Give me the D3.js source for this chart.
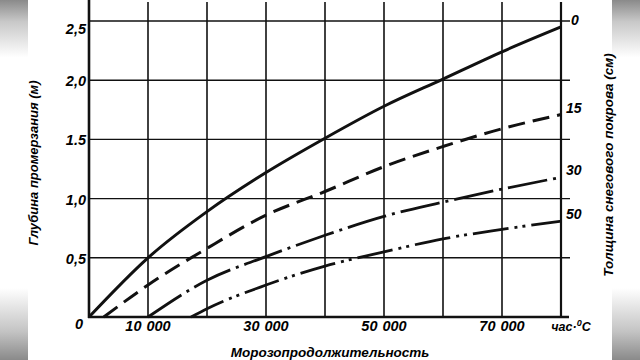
<!DOCTYPE html>
<html><head><meta charset="utf-8">
<script src="https://cdn.jsdelivr.net/npm/d3@7"></script>
<style>
html,body{margin:0;padding:0;background:#fff;}
svg{display:block;}
text{font-family:"Liberation Sans",Arial,sans-serif;font-weight:bold;fill:#000;}
</style></head>
<body>
<svg id="chart" width="640" height="360"></svg>
<script>
// ---- data ----
const xTicks = [0, 10000, 20000, 30000, 40000, 50000, 60000, 70000, 80000];
const xTickLabels = ["10 000", "30 000", "50 000", "70 000"];
const xTickLabelValues = [10000, 30000, 50000, 70000];
const yTicks = [0, 0.5, 1.0, 1.5, 2.0, 2.5];
const yTickLabels = ["0", "0,5", "1,0", "1.5", "2,0", "2,5"];
const snowLabels = ["0", "15", "30", "50"];

const curve0X  = [0, 10000, 20000, 30000, 40000, 50000, 60000, 70000, 80000];
const curve0Y  = [0, 0.50, 0.89, 1.22, 1.51, 1.78, 2.01, 2.24, 2.45];
const curve15X = [2500, 10000, 20000, 30000, 40000, 50000, 60000, 70000, 80000];
const curve15Y = [0, 0.27, 0.58, 0.86, 1.06, 1.27, 1.44, 1.59, 1.71];
const curve30X = [10000, 20000, 30000, 40000, 50000, 60000, 70000, 80000];
const curve30Y = [0, 0.31, 0.51, 0.69, 0.85, 0.97, 1.08, 1.18];
const curve50X = [17300, 20000, 30000, 40000, 50000, 60000, 70000, 80000];
const curve50Y = [0, 0.07, 0.27, 0.43, 0.55, 0.66, 0.74, 0.81];

const xTitle = "Морозопродолжительность";
const xUnitParts = ["час·", "0", "С"];
const yTitle = "Глубина промерзания (м)";
const y2Title = "Толщина снегового покрова (см)";

// ---- drawing ----
const svg = d3.select("#chart");
const x = d3.scaleLinear().domain([0, 80000]).range([89, 561]);
const y = d3.scaleLinear().domain([0, 2.5]).range([317, 21]);

// gray frame edges
const defs = svg.append("defs");
const g = defs.append("linearGradient").attr("id","edge").attr("x1",0).attr("y1",0).attr("x2",0).attr("y2",1);
[[0,"#8a8a8a"],[0.06,"#c8c8c8"],[0.16,"#ffffff"],[0.8,"#ffffff"],[0.92,"#c4c4c4"],[1,"#8a8a8a"]]
  .forEach(s => g.append("stop").attr("offset", s[0]).attr("stop-color", s[1]));
svg.append("rect").attr("x",0).attr("y",0).attr("width",28).attr("height",360).attr("fill","url(#edge)");
svg.append("rect").attr("x",612).attr("y",0).attr("width",28).attr("height",360).attr("fill","url(#edge)");

// vertical grid lines
svg.append("g").selectAll("line").data(xTicks.slice(1, -1)).join("line")
  .attr("x1", d => x(d)).attr("x2", d => x(d))
  .attr("y1", 2).attr("y2", y(0))
  .attr("stroke", "#111").attr("stroke-width", 1.6);

// horizontal grid lines
svg.append("g").selectAll("line").data(yTicks.slice(1)).join("line")
  .attr("x1", x(0)).attr("x2", x(80000) + 9)
  .attr("y1", d => y(d)).attr("y2", d => y(d))
  .attr("stroke", "#111").attr("stroke-width", 1.4);

// axes
svg.append("line").attr("x1", x(0)).attr("x2", x(0)).attr("y1", 0).attr("y2", y(0) + 1)
  .attr("stroke", "#111").attr("stroke-width", 2.6);
svg.append("line").attr("x1", x(80000)).attr("x2", x(80000)).attr("y1", 2).attr("y2", y(0) + 1)
  .attr("stroke", "#111").attr("stroke-width", 2.2);
svg.append("line").attr("x1", x(0) - 1).attr("x2", x(80000) + 8).attr("y1", y(0)).attr("y2", y(0))
  .attr("stroke", "#111").attr("stroke-width", 2.6);

// y tick labels
svg.append("g").selectAll("text").data(yTicks).join("text")
  .attr("x", (d, i) => i === 0 ? 83 : 86)
  .attr("y", (d, i) => y(d) + (i === 0 ? 12 : (i === 5 ? 13 : 6)))
  .attr("text-anchor", "end").attr("font-size", 14.5).attr("font-style", "italic")
  .text((d, i) => yTickLabels[i]);

// x tick labels
svg.append("g").selectAll("text").data(xTickLabelValues).join("text")
  .attr("x", d => x(d))
  .attr("y", 331)
  .attr("text-anchor", "middle").attr("font-size", 14.5).attr("font-style", "italic")
  .attr("word-spacing", 1)
  .text((d, i) => xTickLabels[i]);
const unit = svg.append("text").attr("x", 571).attr("y", 331).attr("text-anchor", "middle")
  .attr("font-size", 12.5).attr("font-style", "italic");
unit.append("tspan").text(xUnitParts[0]);
unit.append("tspan").attr("font-size", 9).attr("dy", -5).text(xUnitParts[1]);
unit.append("tspan").attr("dy", 5).text(xUnitParts[2]);

// titles
svg.append("text").attr("x", 330).attr("y", 357).attr("text-anchor", "middle")
  .attr("font-size", 13.5).attr("font-style", "italic").text(xTitle);
svg.append("text").attr("transform", "translate(38,163) rotate(-90)").attr("text-anchor", "middle")
  .attr("font-size", 13).attr("font-style", "italic").text(yTitle);
svg.append("text").attr("transform", "translate(613,165) rotate(-90)").attr("text-anchor", "middle")
  .attr("font-size", 13.5).attr("font-style", "italic").text(y2Title);

// curves
const line = d3.line().x(d => x(d[0])).y(d => y(d[1])).curve(d3.curveMonotoneX);
const series = [
  {xs: curve0X, ys: curve0Y, dash: null, w: 3},
  {xs: curve15X, ys: curve15Y, dash: "17,8", w: 3},
  {xs: curve30X, ys: curve30Y, dash: "40,6,3,6", w: 2.8},
  {xs: curve50X, ys: curve50Y, dash: "36,6,3,5,3,6", w: 2.8}
];
series.forEach((s, i) => {
  const pts = s.xs.map((v, j) => [v, s.ys[j]]);
  svg.append("path").datum(pts).attr("d", line)
    .attr("fill", "none").attr("stroke", "#111").attr("stroke-width", s.w)
    .attr("stroke-dasharray", s.dash);
  const last = pts[pts.length - 1];
  svg.append("text").attr("x", x(last[0]) + (i === 0 ? 10 : 5)).attr("y", y(last[1]) - 2)
    .attr("font-size", 14).attr("font-style", "italic").text(snowLabels[i]);
});
</script>
</body></html>
